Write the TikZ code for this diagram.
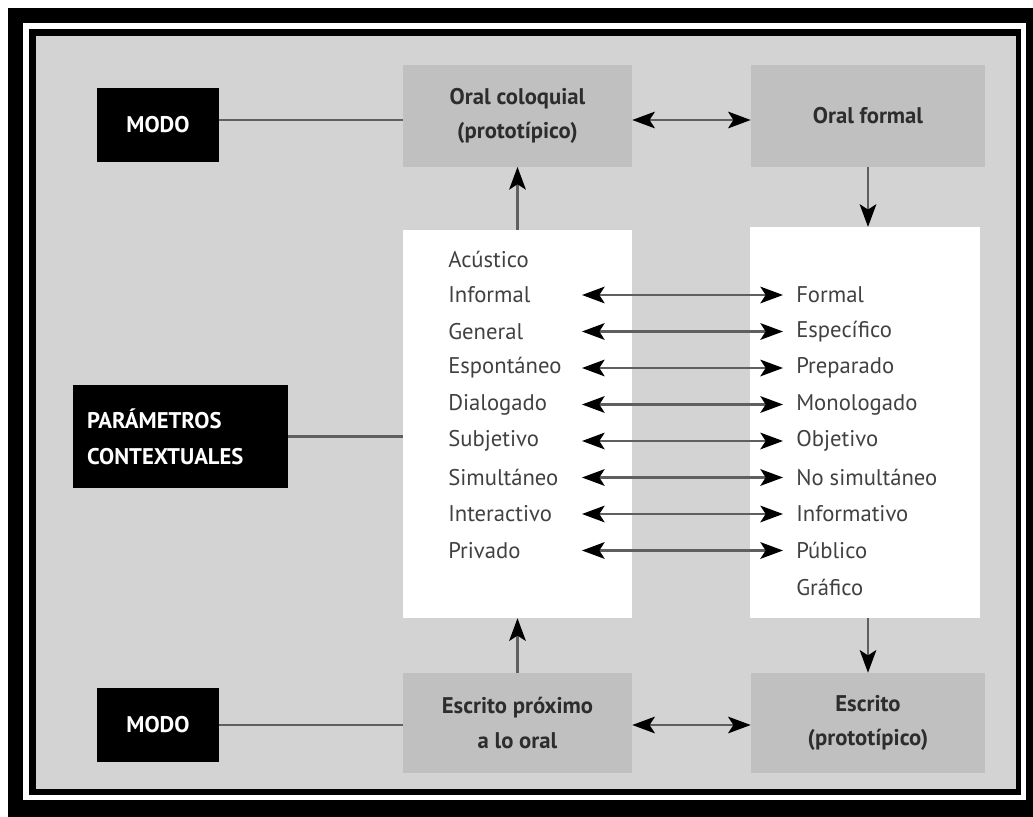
\documentclass[tikz,border=0pt]{standalone}
\usepackage{fontspec}
\setmainfont{PT Sans}
\usetikzlibrary{arrows.meta}
\definecolor{bg}{RGB}{211,211,211}
\definecolor{boxg}{RGB}{192,192,192}
\definecolor{txt}{RGB}{65,65,65}
\definecolor{btxt}{RGB}{45,45,45}
\definecolor{ln}{RGB}{95,95,95}
\begin{document}
\begin{tikzpicture}[x=0.75pt,y=-0.75pt,
  every node/.style={font=\fontsize{17}{21}\selectfont},
  blackbox/.style={fill=black,text=white,font=\fontsize{17}{27}\selectfont\bfseries,align=left,inner sep=0pt,minimum width=91.5pt,minimum height=56pt},
  greybox/.style={fill=boxg,text=btxt,font=\fontsize{17}{26}\selectfont\bfseries,align=center,inner sep=0pt,minimum height=76pt},
  whitebox/.style={fill=white,inner sep=0pt},
  lefttxt/.style={anchor=west,text=txt,inner sep=0pt},
  conn/.style={draw=ln,line width=1.6pt},
  dbl/.style={conn,{Stealth[length=17pt,width=12.5pt,inset=4pt,color=black]}-{Stealth[length=17pt,width=12.5pt,inset=4pt,color=black]}},
  sgl/.style={conn,-{Stealth[length=17pt,width=12.5pt,inset=4pt,color=black]}}
]
\fill[white] (0,0) rectangle (1033,817);
\useasboundingbox (0,0) rectangle (1033,817);
\fill[black] (8,8) rectangle (1033,817);
\fill[white] (23,23) rectangle (1026,800);
\fill[black] (29,29) rectangle (1021,795);
\fill[bg] (36,36) rectangle (1016,789);

% boxes
\node[blackbox] (modo1) at (158,125) {MODO};
\node[blackbox] (modo2) at (158,725) {MODO};
\node[blackbox,minimum width=161pt,minimum height=77pt,text width=140pt] (param) at (180.5,436.5) {PARÁMETROS\\CONTEXTUALES};

\node[greybox,minimum width=171.75pt] (oc) at (517.5,116) {Oral coloquial\\(prototípico)};
\node[greybox,minimum width=175.5pt] (of) at (868,116) {Oral formal};
\node[greybox,minimum width=171.75pt,minimum height=75pt] (ep) at (517.5,723) {Escrito próximo\\a lo oral};
\node[greybox,minimum width=175.5pt,minimum height=75pt] (es) at (868,723) {Escrito\\(prototípico)};

\node[whitebox,minimum width=171.75pt,minimum height=291pt] (lw) at (517.5,424) {};
\node[whitebox,minimum width=172.5pt,minimum height=293pt] (rw) at (865,422.5) {};

% texts
\node[lefttxt] (a0) at (448,259) {Acústico};
\node[lefttxt] (a1) at (448,295) {Informal};
\node[lefttxt] (a2) at (448,331.5) {General};
\node[lefttxt] (a3) at (448,368) {Espontáneo};
\node[lefttxt] (a4) at (448,404.5) {Dialogado};
\node[lefttxt] (a5) at (448,441) {Subjetivo};
\node[lefttxt] (a6) at (448,477.5) {Simultáneo};
\node[lefttxt] (a7) at (448,514) {Interactivo};
\node[lefttxt] (a8) at (448,550.5) {Privado};

\node[lefttxt] (b1) at (796,295) {Formal};
\node[lefttxt] (b2) at (796,331.5) {Específico};
\node[lefttxt] (b3) at (796,368) {Preparado};
\node[lefttxt] (b4) at (796,404.5) {Monologado};
\node[lefttxt] (b5) at (796,441) {Objetivo};
\node[lefttxt] (b6) at (796,477.5) {No simultáneo};
\node[lefttxt] (b7) at (796,514) {Informativo};
\node[lefttxt] (b8) at (796,550.5) {Público};
\node[lefttxt] (b9) at (796,587) {Gráfico};

\foreach \i/\y in {1/295,2/331.5,3/368,4/404.5,5/441,6/477.5,7/514,8/550.5}{
  \coordinate (l\i) at (582,\y);
  \coordinate (r\i) at (783,\y);
  \draw[dbl] (l\i) -- (r\i);
}

% connectors
\draw[conn] (modo1.east |- 0,120) -- (oc.west |- 0,120);
\draw[conn] (modo2.east) -- (modo2.east -| ep.west);
\draw[conn] (param.east) -- (param.east -| lw.west);
\draw[dbl] (oc.east |- 0,120) -- (of.west |- 0,120);
\draw[dbl] (ep.east |- 0,725) -- (es.west |- 0,725);
\draw[sgl] (lw.north) -- (oc.south);
\draw[sgl] (ep.north) -- (lw.south);
\draw[sgl] (of.south) -- (of.south |- rw.north);
\draw[sgl] (of.south |- rw.south) -- (es.north);
\end{tikzpicture}
\end{document}
